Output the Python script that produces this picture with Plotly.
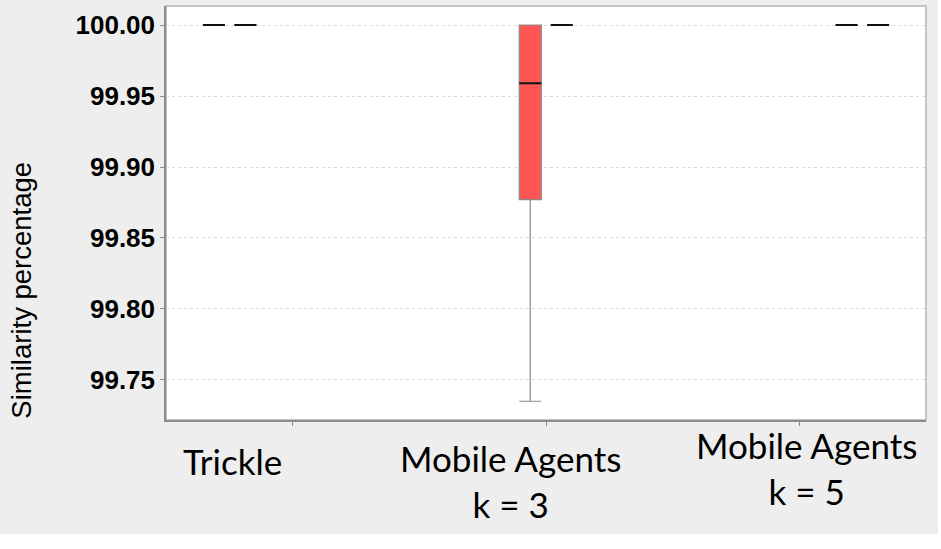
import plotly.graph_objects as go

# categories and box statistics, two series per category
categories = ["Trickle", "Mobile Agents k = 3", "Mobile Agents k = 5"]
category_labels = ["Trickle", "Mobile Agents<br>k = 3", "Mobile Agents<br>k = 5"]
series_category = [0, 0, 1, 1, 2, 2]
q1 = [100.0, 100.0, 99.877, 100.0, 100.0, 100.0]
median = [100.0, 100.0, 99.959, 100.0, 100.0, 100.0]
q3 = [100.0, 100.0, 100.0, 100.0, 100.0, 100.0]
lower = [100.0, 100.0, 99.735, 100.0, 100.0, 100.0]
upper = [100.0, 100.0, 100.0, 100.0, 100.0, 100.0]
y_ticks = [99.75, 99.80, 99.85, 99.90, 99.95, 100.00]

fig = go.Figure()

for i, c in enumerate(series_category):
    grp = f"s{i}"
    fig.add_trace(go.Box(
        x=[categories[c]], q1=[q1[i]], median=[median[i]], q3=[q3[i]],
        lowerfence=[lower[i]], upperfence=[upper[i]],
        offsetgroup=grp, fillcolor="#FF5555",
        line=dict(color="#8a8a8a", width=1.2), whiskerwidth=1,
        boxpoints=False, hoverinfo="skip",
    ))
    # black median line on top
    fig.add_trace(go.Box(
        x=[categories[c]], q1=[median[i]], median=[median[i]], q3=[median[i]],
        lowerfence=[median[i]], upperfence=[median[i]],
        offsetgroup=grp, fillcolor="rgba(0,0,0,0)",
        line=dict(color="#111111", width=1.8), whiskerwidth=1,
        boxpoints=False, hoverinfo="skip",
    ))

label_font = dict(family="Lato, Open Sans, sans-serif", size=35, color="#000000")
label_pos = [(0.087, -0.099), (0.453, -0.147), (0.843, -0.116)]
for text, (px, py) in zip(category_labels, label_pos):
    fig.add_annotation(text=text, xref="paper", yref="paper", x=px, y=py,
                       xanchor="center", yanchor="middle", showarrow=False,
                       font=label_font)

fig.add_annotation(text="Similarity percentage", xref="paper", yref="paper",
                   x=-0.1905, y=0.313, textangle=-90, showarrow=False,
                   xanchor="center", yanchor="middle",
                   font=dict(family="Liberation Sans, Arial, sans-serif", size=27.5, color="#000000"))

# white strips outside the chart image
fig.add_shape(type="rect", xref="paper", yref="paper", x0=-0.3, x1=1.1,
              y0=-0.32, y1=-0.2754, fillcolor="white", line_width=0)
fig.add_shape(type="rect", xref="paper", yref="paper", x0=1.0158, x1=1.1,
              y0=-0.32, y1=1.1, fillcolor="white", line_width=0)
# plot outline
fig.add_shape(type="rect", xref="paper", yref="paper", x0=0, x1=1, y0=0, y1=1,
              line=dict(color="#c4c4c4", width=2), layer="below")

fig.update_layout(
    width=941, height=549,
    margin=dict(l=166, r=15, t=6, b=129),
    paper_bgcolor="#EEEEEE", plot_bgcolor="white",
    boxmode="group", boxgap=0.254, boxgroupgap=0.30,
    showlegend=False,
)
fig.update_xaxes(
    type="category", categoryorder="array", categoryarray=categories,
    range=[-0.5, 2.5], showticklabels=False, showgrid=False,
    ticks="outside", ticklen=4, tickcolor="#8c8c8c",
    showline=True, linecolor="#8c8c8c", linewidth=1.5, zeroline=False,
)
fig.update_yaxes(
    range=[99.7218, 100.0134], tickvals=y_ticks,
    ticktext=[f"{v:.2f}" for v in y_ticks],
    tickfont=dict(family="Liberation Sans, Arial, sans-serif", size=26, color="#000000", weight="bold"),
    ticks="outside", ticklen=4, tickcolor="#8c8c8c",
    showgrid=True, gridcolor="#dcdcdc", griddash="3px,3px", gridwidth=1,
    showline=True, linecolor="#8c8c8c", linewidth=1.5, zeroline=False,
)

fig.write_html("out.html", config={"displayModeBar": False},
               post_script="document.body.style.margin='0';")
